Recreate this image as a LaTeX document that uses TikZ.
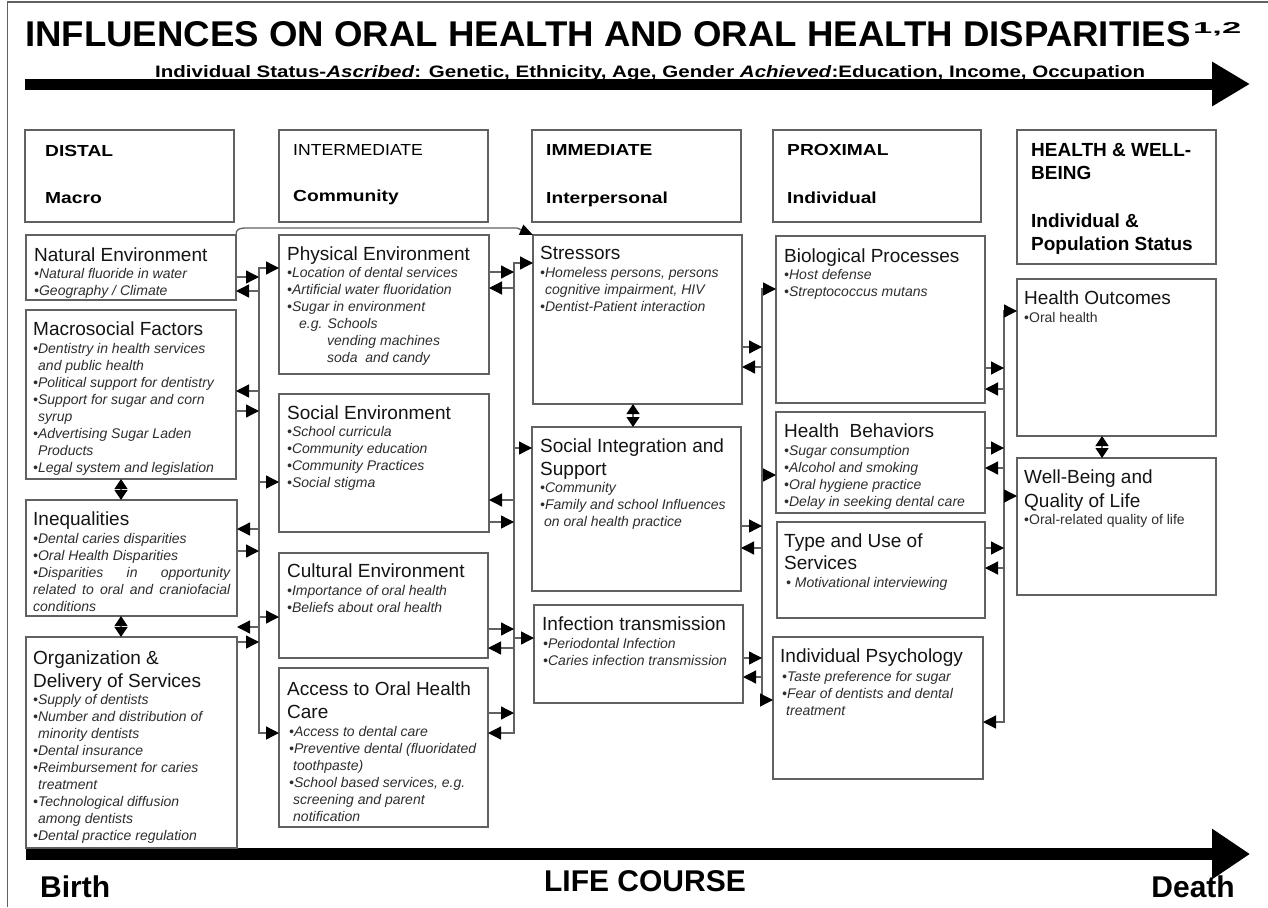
\documentclass[tikz,border=0pt]{standalone}
\usepackage{fontspec}
\setmainfont{Liberation Sans}
\usepackage{graphicx}
\usetikzlibrary{arrows.meta}
\definecolor{ln}{gray}{0.38}
\definecolor{bc}{gray}{0.18}
\newcommand\bx[5]{\node[box,minimum width={#4pt-#2pt},minimum height={#5pt-#3pt}] (#1) at (#2,#3) {};}
\newcommand\blines[5]{\foreach \qq [count=\i] in {#5}{\node[#1] (#2\i) at (#3,{#4+17*(\i-1)}) {\qq};}}
\begin{document}
\begin{tikzpicture}[x=1pt,y=-1pt,
  box/.style={draw=ln,line width=1.4pt,inner sep=0pt,outer sep=0pt,anchor=north west},
  hd/.style={font=\fontsize{19}{23}\selectfont,inner sep=0pt,anchor=base west,text=black!92},
  bl/.style={font=\fontsize{14}{17}\selectfont\itshape,inner sep=0pt,anchor=base west,text=bc},
  bu/.style={font=\fontsize{14}{17}\selectfont,inner sep=0pt,anchor=base west,text=bc},
  hh/.style={font=\fontsize{16}{19}\selectfont\bfseries,inner sep=0pt,anchor=base west},
  hw/.style={font=\fontsize{19}{23}\selectfont\bfseries,inner sep=0pt,anchor=base west},
  big/.style={inner sep=0pt,anchor=base west},
  life/.style={font=\fontsize{30}{34}\selectfont\bfseries,inner sep=0pt},
  bus/.style={draw=ln,line width=1.3pt,line cap=rect},
  arr/.style={draw=ln,line width=1.3pt,-{Triangle[length=13pt,width=13pt,color=black,fill=black]}},
  dia/.style={draw=ln,line width=1.3pt,{Triangle[length=10pt,width=13pt,color=black,fill=black]}-{Triangle[length=10pt,width=13pt,color=black,fill=black]}}
]
\fill[white] (0,0) rectangle (1268,907);
\useasboundingbox (0,0) rectangle (1268,907);

% frame
\coordinate (fBL) at (7.5,907);
\coordinate (fTL) at (7.5,2);
\coordinate (fTR) at (1268,2);
\draw[draw=ln,line width=1.5pt] (fBL) -- (fTL) -- (fTR);

% title
\node[big] (title) at (25,46) {\resizebox{1165pt}{25pt}{\bfseries INFLUENCES ON ORAL HEALTH AND ORAL HEALTH DISPARITIES}};
\node[big] (sup) at (1193,34) {\resizebox{48pt}{11pt}{\bfseries 1,2}};

% top arrow
\coordinate (tA) at (25,84);
\coordinate (tB) at (1250,84);
\draw[line width=11pt,-{Triangle[length=38pt,width=42pt]}] (tA) -- (tB);
\node[big] (status) at (155,77) {\resizebox{990pt}{12pt}{\bfseries Individual Status-\textit{Ascribed}: Genetic, Ethnicity, Age, Gender \textit{Achieved}:Education, Income, Occupation}};

% bottom arrow
\coordinate (bA) at (26,854);
\coordinate (bB) at (1250,854);
\draw[line width=12pt,-{Triangle[length=38pt,width=48pt]}] (bA) -- (bB);
\node[life,anchor=base west] (birth) at (40,897) {Birth};
\node[life,anchor=base] (life) at (645,891) {LIFE COURSE};
\node[life,anchor=base east] (death) at (1235,897) {Death};

% header boxes
\bx{hdist}{25}{130}{234}{222}
\bx{hint}{279}{130}{488}{222}
\bx{himm}{532}{130}{741}{222}
\bx{hprox}{773}{130}{981}{222}
\bx{hhw}{1017}{130}{1216}{264}
\node[hh] (hdistA) at (45,156) {\scalebox{1.2}[1]{DISTAL}};
\node[hh] (hdistB) at (45,203) {\scalebox{1.2}[1]{Macro}};
\node[hh,font=\fontsize{16}{19}\selectfont] (hintA) at (293,155) {\scalebox{1.1}[1]{INTERMEDIATE}};
\node[hh] (hintB) at (293,201) {\scalebox{1.2}[1]{Community}};
\node[hh] (himmA) at (546,155) {\scalebox{1.2}[1]{IMMEDIATE}};
\node[hh] (himmB) at (546,203) {\scalebox{1.2}[1]{Interpersonal}};
\node[hh] (hproxA) at (787,155) {\scalebox{1.2}[1]{PROXIMAL}};
\node[hh] (hproxB) at (787,203) {\scalebox{1.2}[1]{Individual}};
\node[hw] (hhwA) at (1031,156) {HEALTH \& WELL-};
\node[hw] (hhwB) at (1031,179) {BEING};
\node[hw] (hhwC) at (1031,227) {Individual \&};
\node[hw] (hhwD) at (1031,250) {Population Status};

% column 1
\bx{nat}{26}{235}{236}{300}
\bx{mac}{26}{310}{236}{479}
\bx{ineq}{26}{500}{237}{616}
\bx{org}{26}{637}{237}{848}
\node[hd] (natH) at (34,261) {Natural Environment};
\blines{bl}{natL}{34}{278}{{•Natural fluoride in water},{•Geography / Climate}}
\node[hd] (macH) at (33,335) {Macrosocial Factors};
\blines{bl}{macL}{33}{353}{{•Dentistry in health services},{\hspace*{5pt}and public health},{•Political support for dentistry},{•Support for sugar and corn},{\hspace*{5pt}syrup},{•Advertising Sugar Laden},{\hspace*{5pt}Products},{•Legal system and legislation}}
\node[hd] (ineqH) at (33,525) {Inequalities};
\blines{bl}{ineqL}{33}{543}{{•Dental caries disparities},{•Oral Health Disparities},{\makebox[197pt][s]{•Disparities in opportunity}},{\makebox[197pt][s]{related to oral and craniofacial}},{conditions}}
\node[hd] (orgH) at (33,664) {Organization \&};
\node[hd] (orgH2) at (33,687) {Delivery of Services};
\blines{bl}{orgL}{33}{704}{{•Supply of dentists},{•Number and distribution of},{\hspace*{5pt}minority dentists},{•Dental insurance},{•Reimbursement for caries},{\hspace*{5pt}treatment},{•Technological diffusion},{\hspace*{5pt}among dentists},{•Dental practice regulation}}

% column 2
\bx{phys}{279}{235}{489}{374}
\bx{soc}{279}{394}{489}{532}
\bx{cult}{279}{553}{488}{658}
\bx{acc}{279}{668}{488}{827}
\node[hd] (physH) at (287,260) {Physical Environment};
\blines{bl}{physL}{287}{277}{{•Location of dental services},{•Artificial water fluoridation},{•Sugar in environment},{\hspace*{12pt}e.g. Schools},{\hspace*{40pt}vending machines},{\hspace*{40pt}soda\ \ and candy}}
\node[hd] (socH) at (287,419) {Social Environment};
\blines{bl}{socL}{287}{436}{{•School curricula},{•Community education},{•Community Practices},{•Social stigma}}
\node[hd] (cultH) at (287,577) {Cultural Environment};
\blines{bl}{cultL}{287}{595}{{•Importance of oral health},{•Beliefs about oral health}}
\node[hd] (accH) at (287,695) {Access to Oral Health};
\node[hd] (accH2) at (287,718) {Care};
\blines{bl}{accL}{289}{736}{{•Access to dental care},{•Preventive dental (fluoridated},{\hspace*{4pt}toothpaste)},{•School based services, e.g.},{\hspace*{4pt}screening and parent},{\hspace*{4pt}notification}}

% column 3
\bx{str}{533}{235}{742}{404}
\bx{sint}{532}{427}{741}{591}
\bx{inf}{534}{605}{743}{703}
\node[hd] (strH) at (540,259) {Stressors};
\blines{bl}{strL}{540}{277}{{•Homeless persons, persons},{\hspace*{5pt}cognitive impairment, HIV},{•Dentist-Patient interaction}}
\node[hd] (sintH) at (540,452) {Social Integration and};
\node[hd] (sintH2) at (540,475) {Support};
\blines{bl}{sintL}{540}{492}{{•Community},{•Family and school Influences},{\hspace*{4pt}on oral health practice}}
\node[hd] (infH) at (542,630) {Infection transmission};
\blines{bl}{infL}{543}{648}{{•Periodontal Infection},{•Caries infection transmission}}

% column 4
\bx{bio}{776}{236}{985}{403}
\bx{hb}{776}{412}{985}{513}
\bx{tuse}{777}{522}{985}{618}
\bx{ipsy}{773}{637}{983}{779}
\node[hd] (bioH) at (784,262) {Biological Processes};
\blines{bl}{bioL}{784}{279}{{•Host defense},{•Streptococcus mutans}}
\node[hd] (hbH) at (784,437) {Health\ \ Behaviors};
\blines{bl}{hbL}{784}{455}{{•Sugar consumption},{•Alcohol and smoking},{•Oral hygiene practice},{•Delay in seeking dental care}}
\node[hd] (tuseH) at (784,547) {Type and Use of};
\node[hd] (tuseH2) at (784,569) {Services};
\node[bl] (tuseL1) at (786,587) {• Motivational interviewing};
\node[hd] (ipsyH) at (780,662) {Individual Psychology};
\blines{bl}{ipsyL}{782}{681}{{•Taste preference for sugar},{•Fear of dentists and dental},{\hspace*{4pt}treatment}}

% column 5
\bx{hout}{1017}{279}{1216}{436}
\bx{wb}{1017}{458}{1216}{595}
\node[hd] (houtH) at (1024,304) {Health Outcomes};
\node[bu] (houtL1) at (1024,322) {•Oral health};
\node[hd] (wbH) at (1024,483) {Well-Being and};
\node[hd] (wbH2) at (1024,507) {Quality of Life};
\node[bu] (wbL1) at (1024,524) {•Oral-related quality of life};

% double-headed links
\draw[dia] (mac.south -| 121,0) -- (ineq.north -| 121,0);
\draw[dia] (ineq.south -| 121,0) -- (org.north -| 121,0);
\draw[dia] (str.south -| 633,0) -- (sint.north -| 633,0);
\draw[dia] (hout.south -| 1102,0) -- (wb.north -| 1102,0);

% natural environment -> stressors
\coordinate (cA) at (247,228);
\coordinate (cB) at (517,228);
\draw[arr,-{Triangle[length=13pt,width=11pt,color=black,fill=black]}] (nat.north east) .. controls (236,229) and (239,228) .. (cA) -- (cB) -- (str.north west);

% buses
\coordinate (b1) at (259,0);
\coordinate (b2) at (514,0);
\coordinate (b3) at (762,0);
\coordinate (b4) at (1004,0);
\draw[bus] (b1 |- 0,268) -- (b1 |- 0,733);
\draw[bus] (b2 |- 0,263) -- (b2 |- 0,733);
\draw[bus] (b3 |- 0,289) -- (b3 |- 0,700);
\draw[bus] (b4 |- 0,311) -- (b4 |- 0,722);

% bus 1
\foreach \y/\nm in {277/nat,411/mac,551/ineq,642/org}{\draw[arr] (\nm.east |- 0,\y) -- (b1 |- 0,\y);}
\foreach \y/\nm in {291/nat,391/mac,529/ineq,627/org}{\draw[arr] (b1 |- 0,\y) -- (\nm.east |- 0,\y);}
\foreach \y/\nm in {268/phys,482/soc,617/cult,733/acc}{\draw[arr] (b1 |- 0,\y) -- (\nm.west |- 0,\y);}
% bus 2
\foreach \y/\nm in {272/phys,522/soc,629/cult,713/acc}{\draw[arr] (\nm.east |- 0,\y) -- (b2 |- 0,\y);}
\foreach \y/\nm in {288/phys,500/soc,648/cult,733/acc}{\draw[arr] (b2 |- 0,\y) -- (\nm.east |- 0,\y);}
\foreach \y/\nm in {263/str,448/sint,638/inf}{\draw[arr] (b2 |- 0,\y) -- (\nm.west |- 0,\y);}
% bus 3
\foreach \y/\nm in {347/str,526/sint,658/inf}{\draw[arr] (\nm.east |- 0,\y) -- (b3 |- 0,\y);}
\foreach \y/\nm in {367/str,548/sint,677/inf}{\draw[arr] (b3 |- 0,\y) -- (\nm.east |- 0,\y);}
\foreach \y/\nm in {289/bio,475/hb,700/ipsy}{\draw[arr] (b3 |- 0,\y) -- (\nm.west |- 0,\y);}
% bus 4
\foreach \y/\nm in {368/bio,448/hb,548/tuse}{\draw[arr] (\nm.east |- 0,\y) -- (b4 |- 0,\y);}
\foreach \y/\nm in {389/bio,468/hb,568/tuse,722/ipsy}{\draw[arr] (b4 |- 0,\y) -- (\nm.east |- 0,\y);}
\foreach \y/\nm in {311/hout,496/wb}{\draw[arr] (b4 |- 0,\y) -- (\nm.west |- 0,\y);}
\end{tikzpicture}
\end{document}
